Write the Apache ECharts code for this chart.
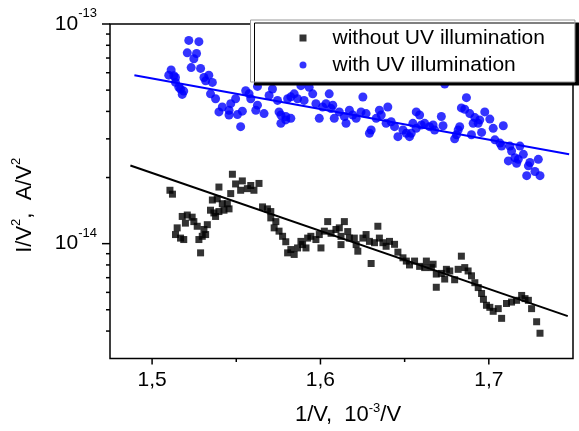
<!DOCTYPE html>
<html><head><meta charset="utf-8">
<script src="https://cdn.jsdelivr.net/npm/echarts@6/dist/echarts.min.js"></script>
<style>html,body{margin:0;padding:0;background:#fff}#c{width:579px;height:431px}</style>
</head><body><div id="c"></div>
<script>
// ---- data (x: 1/V in 10^-3/V, y: I/V^2 in A/V^2) ----
const blackX = [1.5106,1.5121,1.5139,1.5149,1.5169,1.5179,1.5188,1.5198,1.5209,1.5238,1.5248,1.5268,1.5278,1.5288,1.5298,1.5308,1.5318,1.5328,1.5347,1.5358,1.5367,1.5377,1.5387,1.5397,1.5397,1.5417,1.5427,1.5447,1.5457,1.5467,1.5477,1.5496,1.5526,1.5536,1.5566,1.5586,1.5605,1.5635,1.5656,1.5685,1.5705,1.5705,1.5725,1.5735,1.5754,1.5775,1.5794,1.5805,1.5824,1.5844,1.5864,1.5884,1.5894,1.5914,1.5924,1.5943,1.5973,1.5993,1.6003,1.6023,1.6043,1.6063,1.6092,1.6112,1.6122,1.6122,1.6142,1.6162,1.6172,1.6201,1.6212,1.6222,1.6252,1.6271,1.6291,1.6301,1.6321,1.6341,1.6350,1.6371,1.6390,1.6410,1.6440,1.6460,1.6490,1.6510,1.6529,1.6559,1.6589,1.6619,1.6629,1.6659,1.6669,1.6688,1.6688,1.6718,1.6738,1.6748,1.6768,1.6797,1.6818,1.6837,1.6857,1.6877,1.6897,1.6917,1.6937,1.6957,1.6968,1.6986,1.7006,1.7026,1.7056,1.7076,1.7105,1.7135,1.7165,1.7195,1.7215,1.7235,1.7254,1.7284,1.7304];
const blackY = [1.75e-14,1.68e-14,1.10e-14,1.18e-14,1.06e-14,1.33e-14,1.044e-14,1.24e-14,1.35e-14,1.32e-14,1.26e-14,1.20e-14,1.044e-14,0.908e-14,1.08e-14,1.16e-14,1.10e-14,1.22e-14,1.42e-14,1.58e-14,1.38e-14,1.33e-14,1.60e-14,1.81e-14,1.40e-14,1.52e-14,1.42e-14,1.52e-14,1.44e-14,1.69e-14,2.07e-14,1.87e-14,1.75e-14,1.93e-14,1.78e-14,1.84e-14,1.75e-14,1.88e-14,1.47e-14,1.44e-14,1.40e-14,1.31e-14,1.18e-14,1.26e-14,1.14e-14,1.08e-14,1.02e-14,0.908e-14,0.940e-14,0.893e-14,0.956e-14,1.024e-14,0.990e-14,0.956e-14,1.06e-14,1.08e-14,1.044e-14,1.10e-14,0.956e-14,1.14e-14,1.26e-14,1.115e-14,1.16e-14,1.18e-14,1.08e-14,0.990e-14,1.26e-14,1.135e-14,1.06e-14,1.06e-14,0.990e-14,0.924e-14,1.06e-14,1.10e-14,1.024e-14,0.812e-14,1.01e-14,1.20e-14,1.06e-14,1.01e-14,0.973e-14,1.024e-14,0.993e-14,0.915e-14,0.862e-14,0.833e-14,0.800e-14,0.833e-14,0.788e-14,0.778e-14,0.833e-14,0.778e-14,0.806e-14,0.727e-14,0.633e-14,0.732e-14,0.690e-14,0.764e-14,0.751e-14,0.685e-14,0.764e-14,0.877e-14,0.778e-14,0.751e-14,0.714e-14,0.664e-14,0.631e-14,0.593e-14,0.558e-14,0.524e-14,0.513e-14,0.492e-14,0.506e-14,0.457e-14,0.534e-14,0.542e-14,0.552e-14,0.581e-14,0.562e-14,0.552e-14,0.506e-14,0.441e-14,0.391e-14];

const blueX = [1.5099,1.5113,1.5129,1.5139,1.5139,1.5159,1.5169,1.5179,1.5188,1.5209,1.5218,1.5232,1.5248,1.5264,1.5278,1.5288,1.5308,1.5318,1.5337,1.5347,1.5358,1.5377,1.5397,1.5417,1.5457,1.5457,1.5467,1.5496,1.5507,1.5526,1.5536,1.5556,1.5576,1.5586,1.5626,1.5626,1.5616,1.5665,1.5695,1.5715,1.5745,1.5754,1.5765,1.5765,1.5794,1.5794,1.5805,1.5824,1.5844,1.5824,1.5864,1.5884,1.5903,1.5933,1.5954,1.5973,1.5993,1.6013,1.6033,1.6052,1.6063,1.6073,1.6082,1.6112,1.6142,1.6152,1.6172,1.6192,1.6212,1.6241,1.6252,1.6271,1.6291,1.6301,1.6331,1.6350,1.6361,1.6390,1.6400,1.6420,1.6440,1.6460,1.6490,1.6510,1.6529,1.6539,1.6549,1.6569,1.6569,1.6589,1.6599,1.6619,1.6648,1.6669,1.6678,1.6718,1.6728,1.6738,1.6797,1.6808,1.6818,1.6827,1.6837,1.6857,1.6867,1.6887,1.6897,1.6907,1.6917,1.6937,1.6946,1.6957,1.6976,1.7006,1.7026,1.7036,1.7066,1.7076,1.7086,1.7116,1.7125,1.7135,1.7155,1.7165,1.7175,1.7185,1.7205,1.7225,1.7235,1.7244,1.7274,1.7294,1.7304];
const blueY = [5.85e-14,6.18e-14,5.81e-14,5.71e-14,5.42e-14,5.15e-14,5.06e-14,4.78e-14,4.95e-14,7.39e-14,8.42e-14,6.33e-14,6.95e-14,7.34e-14,8.31e-14,6.28e-14,5.71e-14,5.51e-14,5.85e-14,4.81e-14,5.42e-14,4.57e-14,3.98e-14,4.19e-14,4.05e-14,3.85e-14,4.34e-14,4.57e-14,3.87e-14,3.41e-14,4.01e-14,4.97e-14,4.81e-14,4.57e-14,5.20e-14,4.27e-14,4.05e-14,3.91e-14,4.73e-14,5.06e-14,4.49e-14,3.98e-14,3.85e-14,3.53e-14,3.79e-14,3.66e-14,4.57e-14,4.66e-14,4.81e-14,3.72e-14,4.57e-14,5.24e-14,4.49e-14,5.15e-14,4.81e-14,4.34e-14,3.72e-14,4.19e-14,4.34e-14,4.81e-14,4.12e-14,4.27e-14,3.72e-14,3.98e-14,3.79e-14,3.53e-14,4.05e-14,3.85e-14,3.72e-14,3.98e-14,4.65e-14,3.91e-14,3.18e-14,3.29e-14,3.72e-14,4.05e-14,3.85e-14,3.53e-14,4.19e-14,3.59e-14,3.41e-14,3.07e-14,3.29e-14,3.18e-14,3.07e-14,3.18e-14,3.53e-14,3.98e-14,3.35e-14,3.85e-14,3.47e-14,3.53e-14,3.41e-14,3.47e-14,3.29e-14,3.79e-14,3.44e-14,5.33e-14,3.00e-14,3.13e-14,3.29e-14,3.41e-14,4.15e-14,4.09e-14,4.62e-14,3.91e-14,3.13e-14,3.53e-14,3.75e-14,3.53e-14,3.66e-14,3.21e-14,3.98e-14,3.69e-14,3.35e-14,2.97e-14,2.87e-14,2.78e-14,3.44e-14,2.38e-14,2.78e-14,2.64e-14,2.46e-14,2.32e-14,2.42e-14,2.78e-14,2.55e-14,2.04e-14,2.26e-14,2.34e-14,2.13e-14,2.42e-14,2.04e-14];

const fitBlackX = [1.4871, 1.7469];
const fitBlackY = [2.27e-14, 0.468e-14];
const fitBlueX = [1.4895, 1.7477];
const fitBlueY = [5.85e-14, 2.555e-14];

const seriesNames = ['without UV illumination', 'with UV illumination'];
const xMajorTicks = [1.5, 1.6, 1.7];
const xTickLabels = ['1,5', '1,6', '1,7'];
const xMinorTicks = [1.55, 1.65];
const yMajorTicks = [1e-14, 1e-13];
const yTickExponents = ['-14', '-13'];
const yMinorTicks = [4e-15,5e-15,6e-15,7e-15,8e-15,9e-15,2e-14,3e-14,4e-14,5e-14,6e-14,7e-14,8e-14,9e-14];
const xMin = 1.475, xMax = 1.75, xStep = 0.025;
const yMin = 3e-15, yMax = 1e-13;

// ---- chart ----
const FONT = '"Liberation Sans", Arial, Helvetica, sans-serif';
const zip = (xs, ys) => xs.map((x, i) => [x, ys[i]]);
const chart = echarts.init(document.getElementById('c'), null, {renderer: 'canvas'});

const option = {
  animation: false,
  backgroundColor: '#fff',
  grid: {left: 110, top: 24, right: 6, bottom: 67, show: true, borderColor: '#000', borderWidth: 1.5, backgroundColor: 'transparent'},
  legend: {
    orient: 'vertical', left: 250.5, top: 20,
    backgroundColor: '#fff', borderColor: '#9a9a9a', borderWidth: 1,
    shadowColor: '#000', shadowBlur: 0, shadowOffsetX: 4, shadowOffsetY: 3,
    padding: [7, 30, 6, 49],
    itemWidth: 7, itemHeight: 7, itemGap: 5,
    selectedMode: false,
    textStyle: {fontFamily: FONT, fontSize: 21, color: '#000', lineHeight: 22, padding: [0, 0, 0, 21]},
    data: [{name: seriesNames[0], icon: 'rect'}, {name: seriesNames[1], icon: 'circle'}]
  },
  xAxis: {
    type: 'value', min: xMin, max: xMax, interval: xStep,
    axisLine: {show: false}, axisTick: {show: false}, splitLine: {show: false},
    axisLabel: {
      margin: 11, color: '#000', fontFamily: FONT, fontSize: 21,
      formatter: v => { const i = xMajorTicks.findIndex(t => Math.abs(t - v) < 1e-6); return i >= 0 ? xTickLabels[i] : ''; }
    },
    name: '{t|1/V,  10}{s|-3}{t|/V}', nameLocation: 'middle', nameGap: 43,
    nameTextStyle: {
      color: '#000', fontFamily: FONT, fontSize: 22, padding: [0, 0, 0, 13],
      rich: {t: {fontFamily: FONT, fontSize: 22, color: '#000', lineHeight: 27}, s: {fontFamily: FONT, fontSize: 13, color: '#000', lineHeight: 13, verticalAlign: 'top'}}
    }
  },
  yAxis: {
    type: 'log', logBase: 10, min: yMin, max: yMax,
    axisLine: {show: false}, axisTick: {show: false}, splitLine: {show: false}, minorTick: {show: false},
    axisLabel: {
      margin: 13, color: '#000', fontFamily: FONT, fontSize: 21, showMinLabel: false,
      formatter: v => { const i = yMajorTicks.findIndex(t => Math.abs(Math.log10(v) - Math.log10(t)) < 1e-6); return i >= 0 ? '{b|10}{s|' + yTickExponents[i] + '}' : ''; },
      rich: {b: {fontFamily: FONT, fontSize: 21, color: '#000', lineHeight: 34}, s: {fontFamily: FONT, fontSize: 13, color: '#000', lineHeight: 13, verticalAlign: 'top'}}
    },
    name: '{t|I/V}{s|2}{t|,  A/V}{s|2}', nameLocation: 'middle', nameRotate: 90, nameGap: 70,
    nameTextStyle: {
      color: '#000', fontFamily: FONT, fontSize: 22, padding: [0, 28, 0, 0],
      rich: {t: {fontFamily: FONT, fontSize: 22, color: '#000', lineHeight: 30}, s: {fontFamily: FONT, fontSize: 13, color: '#000', lineHeight: 13, verticalAlign: 'top'}}
    }
  },
  series: [
    {name: seriesNames[0], type: 'scatter', symbol: 'rect', symbolSize: 7, itemStyle: {color: '#000'}, data: zip(blackX, blackY), z: 3},
    {name: seriesNames[1], type: 'scatter', symbol: 'circle', symbolSize: 9, itemStyle: {color: '#0000ff'}, data: zip(blueX, blueY), z: 3},
    {name: 'fitBlack', type: 'line', showSymbol: false, symbol: 'none', lineStyle: {color: '#000', width: 2}, data: zip(fitBlackX, fitBlackY), z: 2},
    {name: 'fitBlue', type: 'line', showSymbol: false, symbol: 'none', lineStyle: {color: '#0000ff', width: 2}, data: zip(fitBlueX, fitBlueY), z: 2}
  ]
};
chart.setOption(option);

// ---- tick marks placed through the axes' own scales ----
const px = v => chart.convertToPixel({xAxisIndex: 0}, v);
const py = v => chart.convertToPixel({yAxisIndex: 0}, v);
const left = px(xMin), bottom = py(yMin);
const tickStyle = {stroke: '#000', lineWidth: 1.5};
const g = [];
xMajorTicks.forEach(v => { const x = px(v); g.push({type: 'line', shape: {x1: x, y1: bottom, x2: x, y2: bottom + 6}, style: tickStyle, z: 5}); });
xMinorTicks.forEach(v => { const x = px(v); g.push({type: 'line', shape: {x1: x, y1: bottom, x2: x, y2: bottom + 3.5}, style: tickStyle, z: 5}); });
yMajorTicks.forEach(v => { const y = py(v); g.push({type: 'line', shape: {x1: left - 8, y1: y, x2: left, y2: y}, style: tickStyle, z: 5}); });
yMinorTicks.forEach(v => { const y = py(v); g.push({type: 'line', shape: {x1: left - 4, y1: y, x2: left, y2: y}, style: tickStyle, z: 5}); });
chart.setOption({graphic: g});
</script>
</body></html>
